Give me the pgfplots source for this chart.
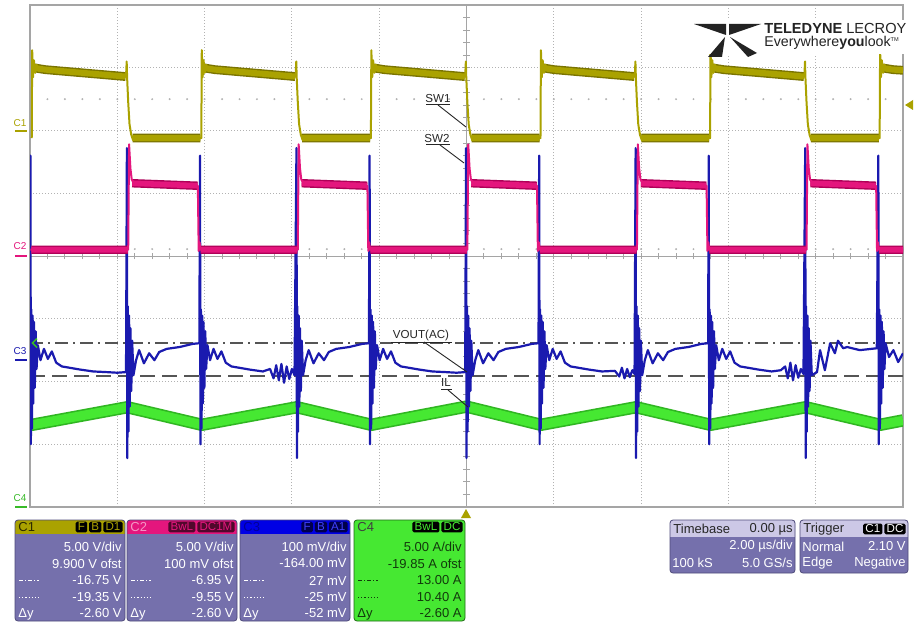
\documentclass[border=0pt]{standalone}
\usepackage{pgfplots}
\pgfplotsset{compat=1.18}
\usepackage{fontspec}
\setmainfont{Liberation Sans}

% screen and channel colours
\definecolor{chOne}{RGB}{170,162,0}
\definecolor{chOneDk}{RGB}{122,116,0}
\definecolor{chTwo}{RGB}{228,22,125}
\definecolor{chTwoDk}{RGB}{175,0,88}
\definecolor{chThree}{RGB}{26,26,175}
\definecolor{chFour}{RGB}{70,232,50}
\definecolor{chFourDk}{RGB}{48,182,34}
\definecolor{gridc}{RGB}{178,178,178}
\definecolor{framec}{RGB}{165,165,165}
\definecolor{cursorc}{RGB}{85,85,85}
\definecolor{panelc}{RGB}{117,112,172}
\definecolor{panelln}{RGB}{78,74,122}
\definecolor{headc}{RGB}{204,200,230}
\definecolor{logoc}{RGB}{35,35,35}

\newcommand\pfont{\fontsize{6.5}{7}\selectfont}
\newcommand\afont{\fontsize{5.8}{6}\selectfont}

\tikzset{
  badge/.style={fill=black, rounded corners=0.8pt, inner xsep=1.1pt, inner ysep=0pt,
    minimum height=5.4pt, font=\fontsize{5.8}{6}\selectfont, anchor=east},
  ptxt/.style={inner sep=0pt, font=\pfont},
}

% five text rows of a channel box: x0, x1, colour, rows
\newcommand\pbody[8]{%
  \node[ptxt,anchor=east,text=#3] at (#2-3,547) {#4};
  \node[ptxt,anchor=east,text=#3] at (#2-3,563.5) {#5};
  \node[ptxt,anchor=east,text=#3] at (#2-3,580.5) {#6};
  \node[ptxt,anchor=east,text=#3] at (#2-3,597) {#7};
  \node[ptxt,anchor=east,text=#3] at (#2-3,613.5) {#8};
  \draw[#3, line width=0.5pt, dash pattern=on 2pt off 1pt on 0.6pt off 1pt] (#1+4,580.5) -- (#1+24,580.5);
  \draw[#3, line width=0.5pt, dash pattern=on 0.6pt off 1pt] (#1+4,597) -- (#1+24,597);
  \node[ptxt,anchor=west,text=#3] at (#1+3,614) {Δy};
}

\begin{document}
\begin{tikzpicture}
\useasboundingbox (0,0) rectangle (458pt,-313pt);
\fill[white] (0,0) rectangle (458pt,-313pt);

\begin{axis}[
  at={(15pt,-253.5pt)}, anchor=south west,
  scale only axis, width=436.5pt, height=251pt,
  xmin=-10, xmax=10, ymin=-4, ymax=4,
  xtick={-8,-6,-4,-2,2,4,6,8}, ytick={-3,-2,-1,1,2,3},
  xticklabels={}, yticklabels={},
  major tick length=0pt,
  xmajorgrids, ymajorgrids,
  grid style={gridc, line width=0.5pt, dash pattern=on 0.5pt off 1pt},
  axis line style={framec, line width=0.9pt},
  unbounded coords=jump,
]
% centre cross with its division ticks
\draw[framec, line width=0.5pt] (axis cs:-10,0) -- (axis cs:10,0);
\draw[framec, line width=0.5pt] (axis cs:0,-4) -- (axis cs:0,4);
\pgfplotsinvokeforeach{-9.6,-9.2,...,9.7}{\draw[framec, line width=0.5pt] (axis cs:#1,-0.055) -- (axis cs:#1,0.055);}
\pgfplotsinvokeforeach{-3.8,-3.6,...,3.9}{\draw[framec, line width=0.5pt] (axis cs:-0.08,#1) -- (axis cs:0.08,#1);}
% sparse dotted reference rows
\pgfplotsinvokeforeach{-9.6,-9.2,...,9.7}{\fill[gridc] (axis cs:#1,2.50) circle[radius=0.55pt];}
\pgfplotsinvokeforeach{-9.6,-9.2,...,9.7}{\fill[gridc] (axis cs:#1,0.11) circle[radius=0.55pt];}
% C3 cursors: 27 mV (dash-dot) and -25 mV (dashed)
\draw[cursorc, line width=0.65pt, dash pattern=on 6.5pt off 2.5pt on 1pt off 2.5pt] (axis cs:-10,-1.386) -- (axis cs:10,-1.386);
\draw[cursorc, line width=0.65pt, dash pattern=on 7.5pt off 3.5pt] (axis cs:-10,-1.912) -- (axis cs:10,-1.912);

% C4: inductor current IL
\addplot[no markers, chFourDk, line width=6.2pt, line join=round] coordinates {
(-10,-2.68) (-9.95,-2.69) (-7.77,-2.41) (-6.065,-2.69) (-3.885,-2.41) (-2.18,-2.69)
(0,-2.40) (1.705,-2.69) (3.885,-2.41) (5.59,-2.69) (7.77,-2.41) (9.475,-2.69) (10,-2.62)};
\addplot[no markers, chFour, line width=4.6pt, line join=round] coordinates {
(-10,-2.68) (-9.95,-2.69) (-7.77,-2.41) (-6.065,-2.69) (-3.885,-2.41) (-2.18,-2.69)
(0,-2.40) (1.705,-2.69) (3.885,-2.41) (5.59,-2.69) (7.77,-2.41) (9.475,-2.69) (10,-2.62)};

% C3: output ripple VOUT(AC)
\addplot[no markers, chThree, line width=1.1pt, line join=round] coordinates {
(-10.00,-1.40)
(-9.99,1.60) (-9.98,-3.00) (-9.97,-0.85) (-9.955,-2.75) (-9.94,-0.95) (-9.925,-2.35) (-9.91,-1.05) (-9.89,-2.10) (-9.87,-1.20) (-9.85,-1.80)
(-9.82,-1.42) (-9.76,-1.66) (-9.68,-1.48) (-9.59,-1.64) (-9.50,-1.52) (-9.40,-1.70) (-9.27,-1.76) (-9.10,-1.78) (-8.85,-1.81) (-8.55,-1.84) (-8.25,-1.85) (-8.00,-1.86) (-7.80,-1.85)
(-7.78,1.72) (-7.77,-3.22) (-7.76,-0.80) (-7.745,-2.80) (-7.73,-0.95) (-7.715,-2.40) (-7.70,-1.15) (-7.68,-2.15) (-7.66,-1.35) (-7.63,-1.90)
(-7.57,-1.66) (-7.50,-1.50) (-7.39,-1.71) (-7.27,-1.55) (-7.15,-1.66) (-7.04,-1.53) (-6.87,-1.48) (-6.57,-1.45) (-6.27,-1.40) (-6.12,-1.39)
(-6.105,1.60) (-6.095,-3.00) (-6.085,-0.85) (-6.07,-2.75) (-6.055,-0.95) (-6.04,-2.35) (-6.025,-1.05) (-6.005,-2.10) (-5.985,-1.20) (-5.965,-1.80)
(-5.935,-1.42) (-5.875,-1.66) (-5.795,-1.48) (-5.705,-1.64) (-5.615,-1.52) (-5.515,-1.70) (-5.385,-1.76) (-5.215,-1.78) (-4.965,-1.81) (-4.665,-1.84)
(-4.50,-1.80) (-4.42,-1.95) (-4.36,-1.74) (-4.30,-1.98) (-4.24,-1.72) (-4.18,-2.02) (-4.12,-1.76) (-4.06,-1.96) (-4.00,-1.80) (-3.94,-1.90)
(-3.895,1.72) (-3.885,-3.22) (-3.875,-0.80) (-3.86,-2.80) (-3.845,-0.95) (-3.83,-2.40) (-3.815,-1.15) (-3.795,-2.15) (-3.775,-1.35) (-3.745,-1.90)
(-3.685,-1.66) (-3.615,-1.50) (-3.505,-1.71) (-3.385,-1.55) (-3.265,-1.66) (-3.155,-1.53) (-2.985,-1.48) (-2.685,-1.45) (-2.385,-1.40) (-2.235,-1.39)
(-2.22,1.60) (-2.21,-3.00) (-2.20,-0.85) (-2.185,-2.75) (-2.17,-0.95) (-2.155,-2.35) (-2.14,-1.05) (-2.12,-2.10) (-2.10,-1.20) (-2.08,-1.80)
(-2.05,-1.42) (-1.99,-1.66) (-1.91,-1.48) (-1.82,-1.64) (-1.73,-1.52) (-1.63,-1.70) (-1.50,-1.76) (-1.33,-1.78) (-1.08,-1.81) (-0.78,-1.84) (-0.48,-1.85) (-0.23,-1.86) (-0.03,-1.85)
(-0.01,1.72) (0.00,-3.22) (0.01,-0.80) (0.025,-2.80) (0.04,-0.95) (0.055,-2.40) (0.07,-1.15) (0.09,-2.15) (0.11,-1.35) (0.14,-1.90)
(0.20,-1.66) (0.27,-1.50) (0.38,-1.71) (0.50,-1.55) (0.62,-1.66) (0.73,-1.53) (0.90,-1.48) (1.20,-1.45) (1.50,-1.40) (1.65,-1.39)
(1.665,1.60) (1.675,-3.00) (1.685,-0.85) (1.70,-2.75) (1.715,-0.95) (1.73,-2.35) (1.745,-1.05) (1.765,-2.10) (1.785,-1.20) (1.805,-1.80)
(1.835,-1.42) (1.895,-1.66) (1.975,-1.48) (2.065,-1.64) (2.155,-1.52) (2.255,-1.70) (2.385,-1.76) (2.555,-1.78) (2.805,-1.81) (3.105,-1.84)
(3.40,-1.83) (3.50,-1.92) (3.56,-1.78) (3.62,-1.95) (3.68,-1.80) (3.74,-1.93) (3.80,-1.82) (3.85,-1.88)
(3.875,1.72) (3.885,-3.22) (3.895,-0.80) (3.91,-2.80) (3.925,-0.95) (3.94,-2.40) (3.955,-1.15) (3.975,-2.15) (3.995,-1.35) (4.025,-1.90)
(4.085,-1.66) (4.155,-1.50) (4.265,-1.71) (4.385,-1.55) (4.505,-1.66) (4.615,-1.53) (4.785,-1.48) (5.085,-1.45) (5.385,-1.40) (5.535,-1.39)
(5.55,1.60) (5.56,-3.00) (5.57,-0.85) (5.585,-2.75) (5.60,-0.95) (5.615,-2.35) (5.63,-1.05) (5.65,-2.10) (5.67,-1.20) (5.69,-1.80)
(5.72,-1.42) (5.78,-1.66) (5.86,-1.48) (5.95,-1.64) (6.04,-1.52) (6.14,-1.70) (6.27,-1.76) (6.44,-1.78) (6.69,-1.81) (6.99,-1.84)
(7.20,-1.82) (7.30,-1.76) (7.36,-1.95) (7.42,-1.70) (7.48,-1.98) (7.54,-1.74) (7.60,-1.94) (7.66,-1.80) (7.72,-1.88)
(7.76,1.72) (7.77,-3.22) (7.78,-0.80) (7.795,-2.80) (7.81,-0.95) (7.825,-2.40) (7.84,-1.15) (7.86,-2.15) (7.88,-1.35) (7.91,-1.90)
(8.03,-1.85) (8.10,-1.50) (8.21,-1.82) (8.33,-1.39) (8.44,-1.55) (8.51,-1.35) (8.63,-1.47) (8.72,-1.45) (9.01,-1.50) (9.40,-1.47)
(9.435,1.60) (9.445,-3.00) (9.455,-0.85) (9.47,-2.75) (9.485,-0.95) (9.50,-2.35) (9.515,-1.05) (9.535,-2.10) (9.555,-1.20) (9.575,-1.80)
(9.60,-1.39) (9.68,-1.61) (9.78,-1.50) (9.89,-1.69) (10.00,-1.55)};

% C2: SW2 node, noise band then trace
\addplot[no markers, chTwoDk, line width=4.2pt, line cap=butt] coordinates {
(-9.97,0.10) (-7.76,0.10) (-7.76,nan)
(-7.66,1.16) (-6.16,1.12) (-6.16,nan)
(-6.09,0.10) (-3.875,0.10) (-3.875,nan)
(-3.775,1.16) (-2.275,1.12) (-2.275,nan)
(-2.20,0.10) (0.01,0.10) (0.01,nan)
(0.11,1.16) (1.61,1.12) (1.61,nan)
(1.68,0.10) (3.895,0.10) (3.895,nan)
(3.995,1.16) (5.495,1.12) (5.495,nan)
(5.565,0.10) (7.78,0.10) (7.78,nan)
(7.88,1.16) (9.38,1.12) (9.38,nan)
(9.45,0.10) (10,0.10)};
\addplot[no markers, chTwo, line width=2.8pt, line cap=butt] coordinates {
(-9.97,0.10) (-7.76,0.10) (-7.76,nan)
(-7.66,1.16) (-6.16,1.12) (-6.16,nan)
(-6.09,0.10) (-3.875,0.10) (-3.875,nan)
(-3.775,1.16) (-2.275,1.12) (-2.275,nan)
(-2.20,0.10) (0.01,0.10) (0.01,nan)
(0.11,1.16) (1.61,1.12) (1.61,nan)
(1.68,0.10) (3.895,0.10) (3.895,nan)
(3.995,1.16) (5.495,1.12) (5.495,nan)
(5.565,0.10) (7.78,0.10) (7.78,nan)
(7.88,1.16) (9.38,1.12) (9.38,nan)
(9.45,0.10) (10,0.10)};
\addplot[no markers, chTwo, line width=1pt, line join=round] coordinates {
(-9.99,0.10)
(-7.75,0.10) (-7.73,1.78) (-7.70,1.40) (-7.67,1.22) (-7.62,1.16) (-7.47,1.14) (-6.155,1.12) (-6.135,0.08) (-6.115,0.22) (-6.095,0.10)
(-3.865,0.10) (-3.845,1.78) (-3.815,1.40) (-3.785,1.22) (-3.735,1.16) (-3.585,1.14) (-2.27,1.12) (-2.25,0.08) (-2.23,0.22) (-2.21,0.10)
(0.02,0.10) (0.04,1.78) (0.07,1.40) (0.10,1.22) (0.15,1.16) (0.30,1.14) (1.615,1.12) (1.635,0.08) (1.655,0.22) (1.675,0.10)
(3.905,0.10) (3.925,1.78) (3.955,1.40) (3.985,1.22) (4.035,1.16) (4.185,1.14) (5.50,1.12) (5.52,0.08) (5.54,0.22) (5.56,0.10)
(7.79,0.10) (7.81,1.78) (7.84,1.40) (7.87,1.22) (7.92,1.16) (8.07,1.14) (9.385,1.12) (9.405,0.08) (9.425,0.22) (9.445,0.10) (10,0.10)};

% C1: SW1 node, noise band then trace
\addplot[no markers, chOneDk, line width=4.4pt, line cap=butt, line join=round] coordinates {
(-9.92,3.00) (-9.65,2.97) (-7.81,2.86) (-7.81,nan)
(-7.65,1.88) (-6.095,1.88) (-6.095,nan)
(-6.035,3.00) (-5.765,2.97) (-3.925,2.86) (-3.925,nan)
(-3.765,1.88) (-2.21,1.88) (-2.21,nan)
(-2.15,3.00) (-1.88,2.97) (-0.04,2.86) (-0.04,nan)
(0.12,1.88) (1.675,1.88) (1.675,nan)
(1.735,3.00) (2.005,2.97) (3.845,2.86) (3.845,nan)
(4.005,1.88) (5.56,1.88) (5.56,nan)
(5.62,3.00) (5.89,2.97) (7.73,2.86) (7.73,nan)
(7.89,1.88) (9.445,1.88) (9.445,nan)
(9.505,3.00) (9.775,2.97) (10,2.96)};
\addplot[no markers, chOne, line width=3pt, line cap=butt, line join=round] coordinates {
(-9.92,3.00) (-9.65,2.97) (-7.81,2.86) (-7.81,nan)
(-7.65,1.88) (-6.095,1.88) (-6.095,nan)
(-6.035,3.00) (-5.765,2.97) (-3.925,2.86) (-3.925,nan)
(-3.765,1.88) (-2.21,1.88) (-2.21,nan)
(-2.15,3.00) (-1.88,2.97) (-0.04,2.86) (-0.04,nan)
(0.12,1.88) (1.675,1.88) (1.675,nan)
(1.735,3.00) (2.005,2.97) (3.845,2.86) (3.845,nan)
(4.005,1.88) (5.56,1.88) (5.56,nan)
(5.62,3.00) (5.89,2.97) (7.73,2.86) (7.73,nan)
(7.89,1.88) (9.445,1.88) (9.445,nan)
(9.505,3.00) (9.775,2.97) (10,2.96)};
\addplot[no markers, chOne, line width=1pt, line join=round] coordinates {
(-9.96,1.88) (-9.95,3.28) (-9.93,2.85) (-9.91,3.12) (-9.88,2.92) (-9.85,3.05) (-9.80,2.95) (-9.65,2.97)
(-7.80,2.86) (-7.785,3.10) (-7.775,2.84) (-7.75,2.45) (-7.72,2.10) (-7.68,1.93) (-7.64,1.85) (-7.57,1.89)
(-6.075,1.88) (-6.065,3.28) (-6.045,2.85) (-6.025,3.12) (-5.995,2.92) (-5.965,3.05) (-5.915,2.95) (-5.765,2.97)
(-3.915,2.86) (-3.90,3.10) (-3.89,2.84) (-3.865,2.45) (-3.835,2.10) (-3.795,1.93) (-3.755,1.85) (-3.685,1.89)
(-2.19,1.88) (-2.18,3.28) (-2.16,2.85) (-2.14,3.12) (-2.11,2.92) (-2.08,3.05) (-2.03,2.95) (-1.88,2.97)
(-0.03,2.86) (-0.015,3.10) (-0.005,2.84) (0.02,2.45) (0.05,2.10) (0.09,1.93) (0.13,1.85) (0.20,1.89)
(1.695,1.88) (1.705,3.28) (1.725,2.85) (1.745,3.12) (1.775,2.92) (1.805,3.05) (1.855,2.95) (2.005,2.97)
(3.855,2.86) (3.87,3.10) (3.88,2.84) (3.905,2.45) (3.935,2.10) (3.975,1.93) (4.015,1.85) (4.085,1.89)
(5.58,1.88) (5.59,3.28) (5.61,2.85) (5.63,3.12) (5.66,2.92) (5.69,3.05) (5.74,2.95) (5.89,2.97)
(7.74,2.86) (7.755,3.10) (7.765,2.84) (7.79,2.45) (7.82,2.10) (7.86,1.93) (7.90,1.85) (7.97,1.89)
(9.465,1.88) (9.475,3.28) (9.495,2.85) (9.515,3.12) (9.545,2.92) (9.575,3.05) (9.625,2.95) (10,2.96)};
\end{axis}

\begin{scope}[x=0.5pt,y=-0.5pt]
% trace annotations
\begin{scope}[black!85, line width=0.45pt]
\node[inner sep=0pt, font=\afont] at (438,99) {SW1};
\draw (426,104.5) -- (450,104.5); \draw (438,105) -- (466,127);
\node[inner sep=0pt, font=\afont] at (437,139) {SW2};
\draw (426,144.5) -- (450,144.5); \draw (440,145) -- (464,163);
\node[inner sep=0pt, font=\afont] at (421,335) {VOUT(AC)};
\draw (391,342) -- (452,342); \draw (424,342) -- (467,372);
\node[inner sep=0pt, font=\afont] at (446,383) {IL};
\draw (441,389.5) -- (452,389.5); \draw (448,390) -- (468,407);
\end{scope}

% channel markers on the left edge
\node[inner sep=0pt, font=\fontsize{5}{5}\selectfont, text=chOne] at (20,123) {C1};
\draw[chOne, line width=1pt] (15,131.5) -- (27,131.5);
\node[inner sep=0pt, font=\fontsize{5}{5}\selectfont, text=chTwo] at (20,246) {C2};
\draw[chTwo, line width=1pt] (15,255.5) -- (27,255.5);
\node[inner sep=0pt, font=\fontsize{5}{5}\selectfont, text=chThree] at (20,351) {C3};
\draw[chThree, line width=1pt] (15,360) -- (27,360);
\node[inner sep=0pt, font=\fontsize{5}{5}\selectfont, text=chFour!80!black] at (20,498) {C4};
\draw[chFour!80!black, line width=1pt] (15,506.5) -- (27,506.5);
\draw[chFour!80!black, line width=0.8pt] (37,338.5) -- (32.5,343) -- (37,347.5);
% trigger level and trigger position
\fill[chOne] (913,100) -- (913,110) -- (905,105) -- cycle;
\fill[chOne] (461,518) -- (471,518) -- (466,509) -- cycle;

% maker logo
\fill[white] (688,20) rectangle (912,54);
\fill[logoc] (694,24) -- (726,24) -- (726,35) -- cycle;
\fill[logoc] (729,24) -- (761,24) -- (729,35) -- cycle;
\fill[logoc] (725,37) -- (722,57) -- (708,57) -- cycle;
\fill[logoc] (730,37) -- (757,53) -- (748,57) -- cycle;
\node[anchor=base west, inner sep=0pt, text=logoc, font=\fontsize{7.3}{8}\selectfont] at (764,34) {\textbf{TELEDYNE} LECROY};
\node[anchor=base west, inner sep=0pt, text=logoc, font=\fontsize{7.1}{8}\selectfont] at (764,46.5) {Everywhere\textbf{you}look\raisebox{2.6pt}{\fontsize{2.8}{3}\selectfont TM}};

% channel boxes
\fill[panelc, rounded corners=1.5pt] (15,520) rectangle (125,621);
\begin{scope}\clip[rounded corners=1.5pt] (15,520) rectangle (125,621); \fill[chOne] (15,520) rectangle (125,534); \end{scope}
\draw[panelln, line width=0.4pt, rounded corners=1.5pt] (15,520) rectangle (125,621);
\node[ptxt, anchor=west, text=black!75!chOne] at (18,527) {C1};
\node[badge, text=chOne] (a1) at (123,527) {D1};
\node[badge, text=chOne] (a2) at ([xshift=-0.6pt]a1.west) {B};
\node[badge, text=chOne] at ([xshift=-0.6pt]a2.west) {F};
\pbody{15}{125}{white}{5.00 V/div}{9.900 V ofst}{-16.75 V}{-19.35 V}{-2.60 V}

\fill[panelc, rounded corners=1.5pt] (127,520) rectangle (237,621);
\begin{scope}\clip[rounded corners=1.5pt] (127,520) rectangle (237,621); \fill[chTwo] (127,520) rectangle (237,534); \end{scope}
\draw[panelln, line width=0.4pt, rounded corners=1.5pt] (127,520) rectangle (237,621);
\node[ptxt, anchor=west, text=chTwo!45!white] at (130,527) {C2};
\node[badge, text=chTwo, fill=chTwo!35!black] (b1) at (235,527) {DC1M};
\node[badge, text=chTwo, fill=chTwo!35!black] at ([xshift=-0.6pt]b1.west) {BwL};
\pbody{127}{237}{white}{5.00 V/div}{100 mV ofst}{-6.95 V}{-9.55 V}{-2.60 V}

\fill[panelc, rounded corners=1.5pt] (240,520) rectangle (350,621);
\begin{scope}\clip[rounded corners=1.5pt] (240,520) rectangle (350,621); \fill[blue!90!black] (240,520) rectangle (350,534); \end{scope}
\draw[panelln, line width=0.4pt, rounded corners=1.5pt] (240,520) rectangle (350,621);
\node[ptxt, anchor=west, text=blue!60!black] at (243,527) {C3};
\node[badge, text=blue!75!white, fill=blue!30!black] (c1) at (348,527) {A1};
\node[badge, text=blue!75!white, fill=blue!30!black] (c2) at ([xshift=-0.6pt]c1.west) {B};
\node[badge, text=blue!75!white, fill=blue!30!black] at ([xshift=-0.6pt]c2.west) {F};
\pbody{240}{350}{white}{100 mV/div}{-164.00 mV}{27 mV}{-25 mV}{-52 mV}

\fill[chFour, rounded corners=1.5pt] (354,520) rectangle (465,621);
\draw[chFour!45!black, line width=0.4pt, rounded corners=1.5pt] (354,520) rectangle (465,621);
\node[ptxt, anchor=west, text=black!75] at (357,527) {C4};
\node[badge, text=chFour] (d1) at (463,527) {DC};
\node[badge, text=chFour] at ([xshift=-0.6pt]d1.west) {BwL};
\pbody{354}{465}{black!75!chFour}{5.00 A/div}{-19.85 A ofst}{13.00 A}{10.40 A}{-2.60 A}

% timebase box
\fill[panelc, rounded corners=1.5pt] (670,520) rectangle (795,573);
\begin{scope}\clip[rounded corners=1.5pt] (670,520) rectangle (795,573); \fill[headc] (670,520) rectangle (795,537); \end{scope}
\draw[panelln, line width=0.4pt, rounded corners=1.5pt] (670,520) rectangle (795,573);
\node[ptxt, anchor=west, text=black!85] at (673,529) {Timebase};
\node[ptxt, anchor=east, text=black!85] at (793,529) {0.00 µs};
\node[ptxt, anchor=east, text=white] at (793,546.5) {2.00 µs/div};
\node[ptxt, anchor=west, text=white] at (672,563) {100 kS};
\node[ptxt, anchor=east, text=white] at (793,563) {5.0 GS/s};

% trigger box
\fill[panelc, rounded corners=1.5pt] (800,520) rectangle (908,573);
\begin{scope}\clip[rounded corners=1.5pt] (800,520) rectangle (908,573); \fill[headc] (800,520) rectangle (908,537); \end{scope}
\draw[panelln, line width=0.4pt, rounded corners=1.5pt] (800,520) rectangle (908,573);
\node[ptxt, anchor=west, text=black!85] at (803,529) {Trigger};
\node[badge, text=white] (t1) at (906,529) {DC};
\node[badge, text=white] at ([xshift=-0.6pt]t1.west) {C1};
\node[ptxt, anchor=west, text=white] at (802,546.5) {Normal};
\node[ptxt, anchor=east, text=white] at (906,546.5) {2.10 V};
\node[ptxt, anchor=west, text=white] at (802,563) {Edge};
\node[ptxt, anchor=east, text=white] at (906,563) {Negative};
\end{scope}
\end{tikzpicture}
\end{document}
